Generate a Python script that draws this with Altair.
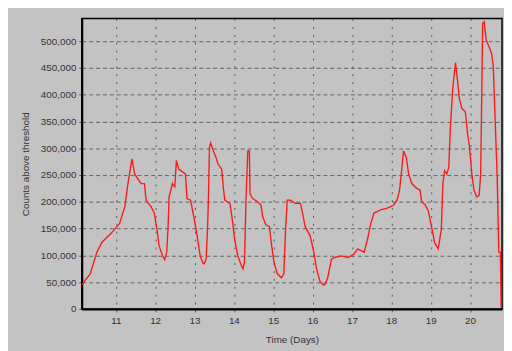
import altair as alt
import pandas as pd

days = [10.15, 10.19, 10.355, 10.52, 10.645, 10.895, 11.1, 11.23, 11.31, 11.41,
        11.48, 11.56, 11.645, 11.73, 11.77, 11.895, 11.98, 12.06, 12.1, 12.19,
        12.245, 12.295, 12.33, 12.355, 12.44, 12.5, 12.54, 12.6, 12.71, 12.77,
        12.81, 12.9, 12.98, 13.06, 13.145, 13.21, 13.245, 13.295, 13.33, 13.355,
        13.38, 13.41, 13.48, 13.545, 13.6, 13.69, 13.73, 13.77, 13.9, 13.96,
        14.02, 14.1, 14.19, 14.23, 14.27, 14.31, 14.355, 14.395, 14.41, 14.48,
        14.6, 14.69, 14.73, 14.81, 14.9, 14.96, 15.02, 15.1, 15.21, 15.27,
        15.31, 15.355, 15.44, 15.56, 15.69, 15.745, 15.81, 15.94, 16.02, 16.1,
        16.19, 16.27, 16.31, 16.38, 16.48, 16.56, 16.73, 16.9, 17.06, 17.145,
        17.31, 17.395, 17.48, 17.56, 17.73, 17.9, 18.06, 18.145, 18.21, 18.27,
        18.31, 18.38, 18.44, 18.52, 18.645, 18.73, 18.77, 18.855, 18.94, 19.02,
        19.1, 19.19, 19.27, 19.31, 19.355, 19.41, 19.46, 19.5, 19.56, 19.63,
        19.67, 19.73, 19.795, 19.88, 19.94, 19.98, 20.045, 20.1, 20.17, 20.23,
        20.27, 20.295, 20.32, 20.36, 20.41, 20.48, 20.545, 20.59, 20.63, 20.69,
        20.73, 20.77, 20.79]

counts_k = [45, 50, 66, 106, 124, 142, 160, 191, 234, 280,
            252, 243, 234, 234, 203, 191, 179, 142, 118, 99,
            92, 106, 154, 209, 234, 228, 277, 261, 255, 252,
            206, 203, 173, 140, 99, 86, 84, 93, 148, 209,
            301, 310, 295, 283, 270, 261, 228, 203, 197, 167,
            130, 99, 81, 75, 87, 209, 295, 295, 215, 206,
            200, 194, 173, 157, 154, 118, 87, 66, 58, 66,
            142, 203, 203, 197, 197, 179, 154, 136, 110, 75,
            51, 45, 45, 57, 93, 96, 99, 96, 103, 112,
            106, 130, 160, 179, 185, 188, 194, 203, 222, 264,
            295, 283, 252, 234, 225, 222, 200, 195, 183, 154,
            124, 112, 148, 234, 258, 252, 264, 337, 411, 460,
            435, 392, 374, 368, 325, 307, 252, 222, 209, 212,
            252, 386, 533, 536, 502, 490, 478, 453, 368, 246,
            106, 106, 2]

x_ticks = list(range(11, 21))
y_ticks = list(range(0, 500001, 50000))

df = pd.DataFrame({"day": days, "count": [c * 1000 for c in counts_k]})

line = alt.Chart(df).mark_line(color="#ff1a1a", strokeWidth=1.4, clip=True).encode(
    x=alt.X("day:Q",
            scale=alt.Scale(domain=[10.1375, 20.8125], nice=False, zero=False),
            axis=alt.Axis(values=x_ticks, title="Time (Days)", format="d",
                          grid=True, gridDash=[2, 6], gridColor="#555555",
                          gridWidth=1, tickSize=3, tickColor="#555555",
                          labelPadding=4, titleY=26)),
    y=alt.Y("count:Q",
            scale=alt.Scale(domain=[0, 542000], nice=False),
            axis=alt.Axis(values=y_ticks, title="Counts above threshold",
                          format=",d", grid=True, gridDash=[4, 3],
                          gridColor="#606060", gridWidth=1, tickSize=3,
                          tickColor="#555555", labelPadding=3,
                          titleX=-52)),
)

chart = line.properties(
    width=427, height=295,
    autosize=alt.AutoSizeParams(type="none"),
    padding={"left": 75, "top": 8, "right": 2, "bottom": 40},
    background="#c3c3c3",
).configure_view(
    stroke="black", strokeWidth=1.5, fill="#c3c3c3"
).configure_axis(
    domainColor="black", domainWidth=2,
    labelFont="Liberation Sans", titleFont="Liberation Sans",
    labelFontSize=10, titleFontSize=10,
    labelColor="#333333", titleColor="#333333",
    titleFontWeight="normal",
)

chart.save("out.html", embed_options={"renderer": "svg", "actions": False})
